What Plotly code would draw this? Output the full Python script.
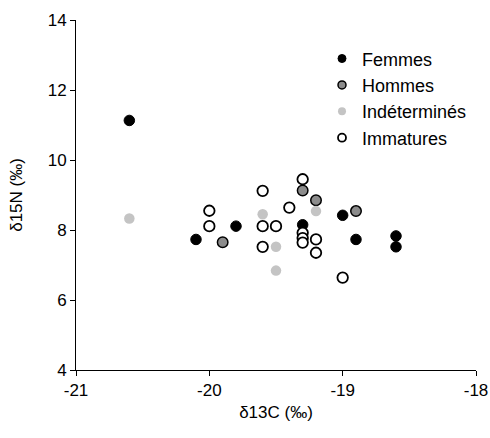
import plotly.graph_objects as go

# Data
femmes_x = [-20.6, -20.1, -19.8, -19.3, -19.0, -18.9, -18.6, -18.6]
femmes_y = [11.13, 7.73, 8.11, 8.15, 8.42, 7.73, 7.83, 7.52]

hommes_x = [-19.9, -19.3, -19.2, -18.9]
hommes_y = [7.65, 9.13, 8.85, 8.54]

indet_x = [-20.6, -19.6, -19.5, -19.5, -19.2]
indet_y = [8.33, 8.45, 7.52, 6.84, 8.54]

immat_x = [-20.0, -20.0, -19.6, -19.6, -19.6, -19.5, -19.4, -19.3, -19.3, -19.3, -19.3, -19.2, -19.2, -19.0]
immat_y = [8.55, 8.11, 9.12, 8.11, 7.52, 8.11, 8.64, 9.45, 7.92, 7.77, 7.64, 7.73, 7.35, 6.64]

x_ticks = [-21, -20, -19, -18]
y_ticks = [4, 6, 8, 10, 12, 14]

series = [
    ("Femmes", femmes_x, femmes_y, dict(color="black", line=dict(color="black", width=1))),
    ("Hommes", hommes_x, hommes_y, dict(color="#8c8c8c", line=dict(color="black", width=1.5))),
    ("Indéterminés", indet_x, indet_y, dict(color="#c4c4c4", line=dict(color="#c4c4c4", width=0))),
    ("Immatures", immat_x, immat_y, dict(color="white", line=dict(color="black", width=1.8))),
]

fig = go.Figure()
for name, xs, ys, mk in series:
    fig.add_trace(go.Scatter(x=xs, y=ys, mode="markers", name=name, showlegend=False,
                             marker=dict(size=10.5, **mk)))
for name, xs, ys, mk in series:
    # legend entries (smaller symbols as in the reference)
    fig.add_trace(go.Scatter(x=[None], y=[None], mode="markers", name=name, showlegend=True,
                             marker=dict(size=8, **mk)))

font = dict(family="Liberation Sans, Arial, sans-serif", size=17, color="black")

fig.update_layout(
    width=490, height=438,
    margin=dict(l=76, r=14, t=20, b=68),
    paper_bgcolor="white", plot_bgcolor="white",
    font=font,
    showlegend=True,
    legend=dict(x=0.615, y=0.942, xanchor="left", yanchor="top",
                font=dict(family="Liberation Sans, Arial, sans-serif", size=18, color="black"),
                bgcolor="rgba(0,0,0,0)", itemwidth=30, tracegroupgap=0),
    xaxis=dict(range=[-21, -18], tickvals=x_ticks, ticktext=[str(v) for v in x_ticks],
               showgrid=False, zeroline=False, showline=True, linecolor="black", linewidth=1,
               ticks="outside", ticklen=5, tickcolor="black", automargin=False,
               title=dict(text="δ13C (‰)", standoff=6, font=font)),
    yaxis=dict(range=[4, 14], tickvals=y_ticks, ticktext=[str(v) for v in y_ticks],
               showgrid=False, zeroline=False, showline=True, linecolor="black", linewidth=1,
               ticks="outside", ticklen=5, tickcolor="black", automargin=False,
               title=dict(text="δ15N (‰)", standoff=20, font=font)),
)

fig.write_html("out.html")
